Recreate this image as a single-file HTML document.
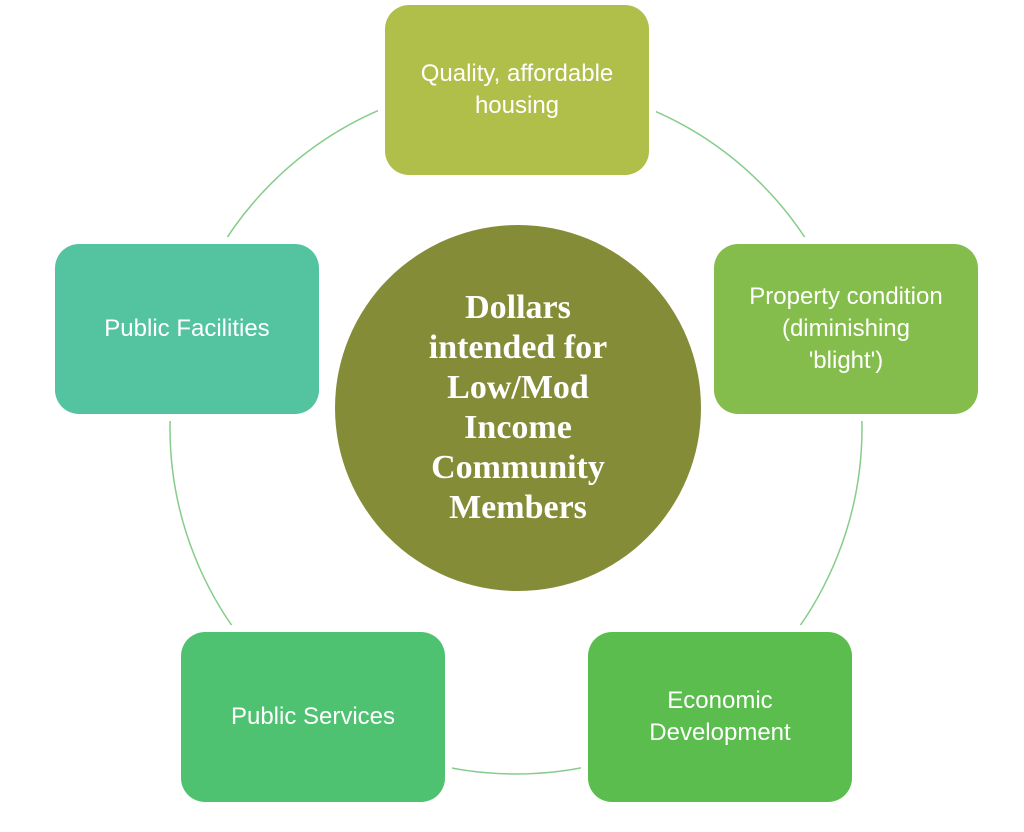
<!DOCTYPE html>
<html><head><style>
body{margin:0;width:1024px;height:832px;background:#fff;overflow:hidden;position:relative;font-family:"Liberation Sans",sans-serif}
.b{position:absolute;width:264px;height:170px;border-radius:24px;color:#fff;display:flex;align-items:center;justify-content:center;text-align:center;font-size:24px;line-height:32px;box-shadow:0 0 0 7px #fff}
.c{position:absolute;left:335px;top:225px;width:366px;height:366px;border-radius:50%;background:#858c38;color:#fff;display:flex;align-items:center;justify-content:center;text-align:center;font-family:"Liberation Serif",serif;font-weight:bold;font-size:34px;line-height:40px}
</style></head><body>
<svg width="1024" height="832" style="position:absolute;left:0;top:0">
<circle cx="516" cy="428" r="346" fill="none" stroke="#86cc8a" stroke-width="1.5"/>
</svg>
<div class="b" style="left:385px;top:5px;background:#b0bf4a">Quality, affordable<br>housing</div>
<div class="b" style="left:714px;top:244px;background:#84bd4b">Property condition<br>(diminishing<br>'blight')</div>
<div class="b" style="left:588px;top:632px;background:#5abd4d">Economic<br>Development</div>
<div class="b" style="left:181px;top:632px;background:#4fc272">Public Services</div>
<div class="b" style="left:55px;top:244px;background:#53c49f">Public Facilities</div>
<div class="c">Dollars<br>intended for<br>Low/Mod<br>Income<br>Community<br>Members</div>
</body></html>
